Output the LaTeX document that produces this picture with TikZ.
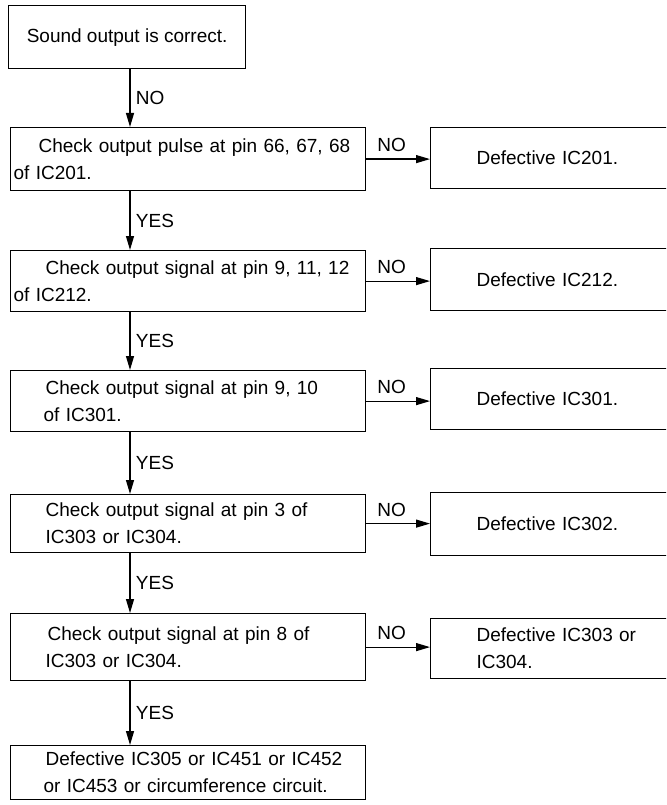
\documentclass[tikz,border=0pt]{standalone}
\usepackage{fontspec}
\setmainfont{Liberation Sans}
\usetikzlibrary{arrows.meta,positioning}

\begin{document}
\begin{tikzpicture}[x=1pt, y=-1pt, line width=1.2pt,
    font=\fontsize{19}{27}\selectfont,
    box/.style={draw, anchor=north west, align=left, inner xsep=3pt, inner ysep=0pt, text width=349pt},
    fault/.style={draw, anchor=north west, align=left, inner xsep=46pt, inner ysep=0pt, text width=170pt},
    arr/.style={-{Triangle[length=14pt,width=8pt]}}]
    \useasboundingbox (0,0) rectangle (666,805);
    \clip (0,0) rectangle (666,805);

    \node [draw, anchor=north west, minimum width=237pt, minimum height=63pt] (sound) at (8,5) {Sound output is correct.};

    \node [box, minimum height=63pt] (pulse) at (10,127) {\hspace*{25pt}Check output pulse at pin 66, 67, 68\\of IC201.};
    \node [box, minimum height=61pt] (sig212) at (10,250) {\hspace*{32pt}Check output signal at pin 9, 11, 12\\of IC212.};
    \node [box, minimum height=61pt] (sig301) at (10,370) {\hspace*{32pt}Check output signal at pin 9, 10\\\hspace*{30pt}of IC301.};
    \node [box, minimum height=58pt] (pinthree) at (10,494) {\hspace*{32pt}Check output signal at pin 3 of\\\hspace*{32pt}IC303 or IC304.};
    \node [box, minimum height=67pt] (pineight) at (10,613) {\hspace*{34pt}Check output signal at pin 8 of\\\hspace*{32pt}IC303 or IC304.};
    \node [box, minimum height=54pt] (rest) at (10,745) {\hspace*{32pt}Defective IC305 or IC451 or IC452\\\hspace*{30pt}or IC453 or circumference circuit.};

    \node [fault, minimum height=61pt] (ic201) at (430,127) {Defective IC201.};
    \node [fault, minimum height=62pt] (ic212) at (430,248) {Defective IC212.};
    \node [fault, minimum height=61pt] (ic301) at (430,368) {Defective IC301.};
    \node [fault, minimum height=63pt] (ic302) at (430,492) {Defective IC302.};
    \node [fault, minimum height=60pt] (ic303) at (430,618) {Defective IC303 or\\IC304.};

    \draw [arr] ([xshift=122pt]sound.south west) -- node [right=2pt] {NO} ([xshift=120pt]pulse.north west);
    \draw [arr] ([xshift=120pt]pulse.south west) -- node [right=2pt] {YES} ([xshift=120pt]sig212.north west);
    \draw [arr] ([xshift=120pt]sig212.south west) -- node [right=2pt] {YES} ([xshift=120pt]sig301.north west);
    \draw [arr] ([xshift=120pt]sig301.south west) -- node [right=2pt] {YES} ([xshift=120pt]pinthree.north west);
    \draw [arr] ([xshift=120pt]pinthree.south west) -- node [right=2pt] {YES} ([xshift=120pt]pineight.north west);
    \draw [arr] ([xshift=120pt]pineight.south west) -- node [right=2pt] {YES} ([xshift=120pt]rest.north west);

    \draw [arr] (pulse.east) -- node [above=3pt, pos=0.4] {NO} (pulse.east -| ic201.west);
    \draw [arr] (sig212.east) -- node [above=3pt, pos=0.4] {NO} (sig212.east -| ic212.west);
    \draw [arr] (sig301.east) -- node [above=3pt, pos=0.4] {NO} (sig301.east -| ic301.west);
    \draw [arr] (pinthree.east) -- node [above=3pt, pos=0.4] {NO} (pinthree.east -| ic302.west);
    \draw [arr] (pineight.east) -- node [above=3pt, pos=0.4] {NO} (pineight.east -| ic303.west);
\end{tikzpicture}
\end{document}
